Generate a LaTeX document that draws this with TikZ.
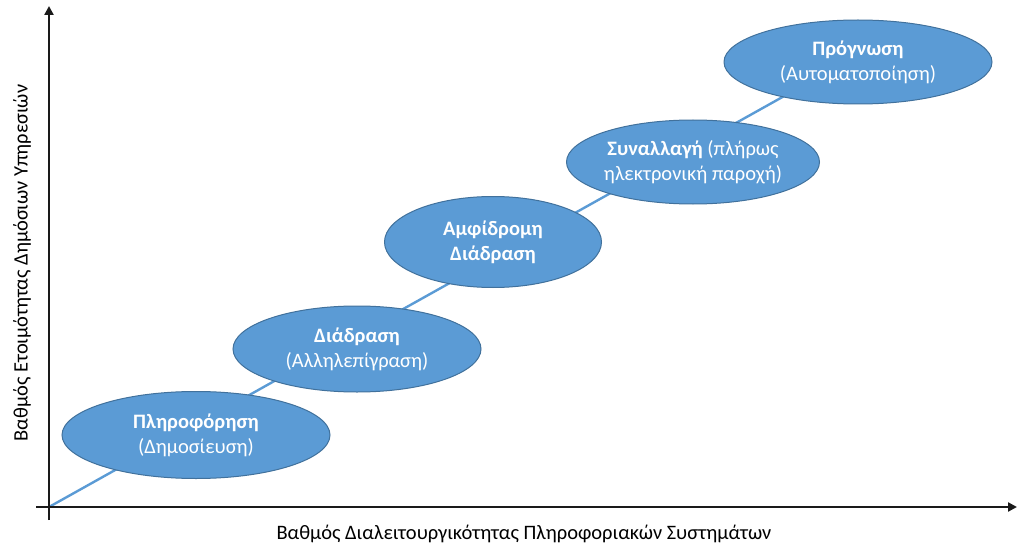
\documentclass[tikz,border=0pt]{standalone}
\usepackage{fontspec}
\setmainfont{Carlito}
\usetikzlibrary{shapes.geometric,arrows.meta}
\definecolor{ebfill}{HTML}{5B9BD5}
\definecolor{ebdraw}{HTML}{41719C}
\definecolor{axcol}{HTML}{1A1A1A}
\tikzset{
  stage/.style={ellipse, fill=ebfill, draw=ebdraw, line width=1pt, text=white,
    inner sep=0pt, align=center, font=\fontsize{20.5}{25}\selectfont},
  axis/.style={draw=axcol, line width=2.6pt, -{Triangle[length=9pt,width=9pt]}},
  link/.style={draw=ebfill, line width=2.4pt},
  albl/.style={font=\fontsize{20.5}{25}\selectfont, text=black}
}
\begin{document}
\begin{tikzpicture}[x=1pt,y=-1pt]
\useasboundingbox (0,0) rectangle (1023,559);
\coordinate (O) at (49,507);
\coordinate (ytop) at (49,6);
\coordinate (ybot) at (49,520);
\coordinate (xleft) at (36,507);
\coordinate (xright) at (1017,507);
\coordinate (lend) at (795,90);
\draw[link] (O) -- (lend);
\node[stage, minimum width=268pt, minimum height=87pt] (s1) at (196,435) {\textbf{Πληροφόρηση}\\(Δημοσίευση)};
\node[stage, minimum width=248pt, minimum height=86pt] (s2) at (357,349) {\textbf{Διάδραση}\\(Αλληλεπίγραση)};
\node[stage, minimum width=217pt, minimum height=91pt] (s3) at (493,242) {\textbf{Αμφίδρομη}\\\textbf{Διάδραση}};
\node[stage, minimum width=253pt, minimum height=84pt] (s4) at (693,162) {\textbf{Συναλλαγή} (πλήρως\\ηλεκτρονική παροχή)};
\node[stage, minimum width=268pt, minimum height=84pt] (s5) at (858,62) {\textbf{Πρόγνωση}\\(Αυτοματοποίηση)};
\draw[axis] (ybot) -- (ytop);
\draw[axis] (xleft) -- (xright);
\node[albl] (xl) at (524,534) {Βαθμός Διαλειτουργικότητας Πληροφοριακών Συστημάτων};
\node[albl, rotate=90] (yl) at (22,263) {Βαθμός Ετοιμότητας Δημόσιων Υπηρεσιών};
\end{tikzpicture}
\end{document}
